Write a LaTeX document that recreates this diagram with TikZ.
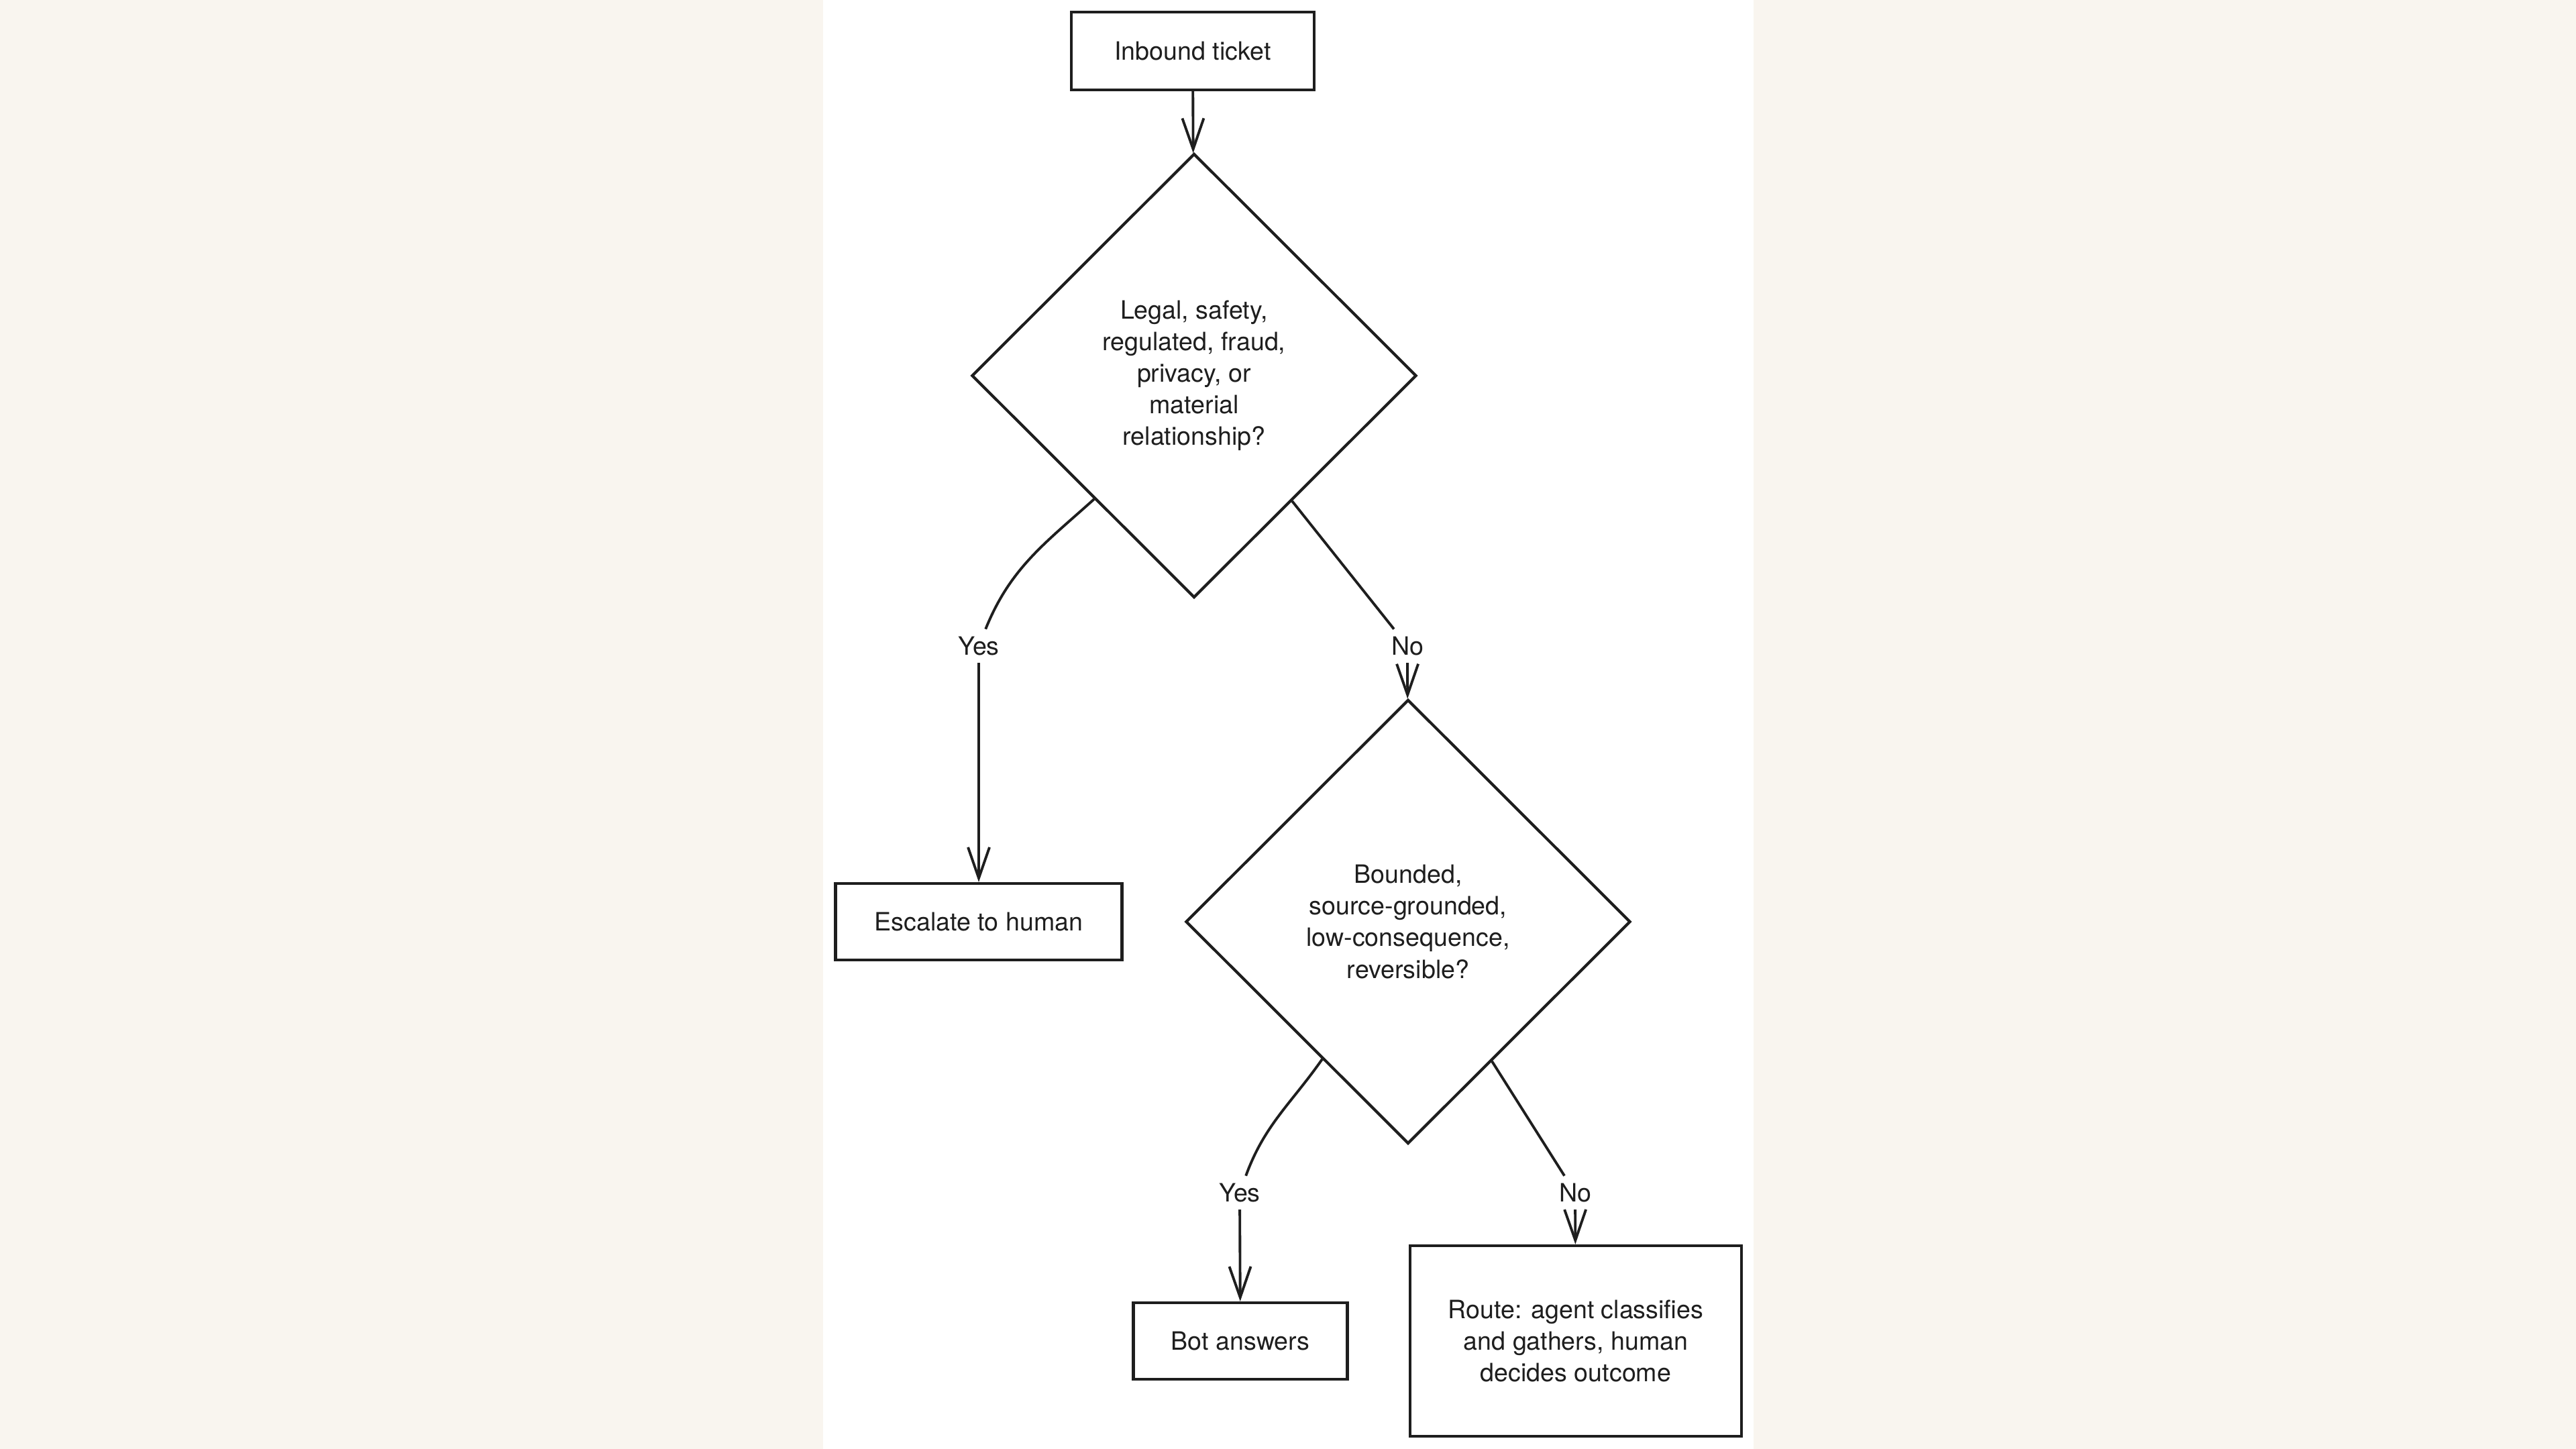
\documentclass[tikz,border=0pt]{standalone}
\usepackage{fontspec}
\setmainfont{TeX Gyre Heros}
\usetikzlibrary{shapes.geometric,arrows.meta}
\definecolor{paper}{HTML}{F9F5EF}
\definecolor{ink}{HTML}{1E1E1E}
\tikzset{
    every node/.style={font=\fontsize{10.7}{13.4}\selectfont, text=ink},
    box/.style={draw=ink, line width=1.2pt, rectangle, inner sep=0pt, align=center},
    ask/.style={draw=ink, line width=1.2pt, diamond, minimum width=6.63cm, minimum height=6.62cm, inner sep=0pt, align=center},
    lbl/.style={fill=white, inner sep=3pt},
    flow/.style={draw=ink, line width=1.1pt},
    tip/.style={-{Straight Barb[length=4.6mm, width=3.2mm]}}
}
\begin{document}
\begin{tikzpicture}
    \fill[paper] (0,0) rectangle (38.4,21.6);
    \fill[white] (12.27,0) rectangle (26.14,21.6);
    \node[box, minimum width=3.62cm, minimum height=1.16cm] (ticket) at (17.78,20.84) {Inbound ticket};
    \node[ask] (q1) at (17.80,16.00) {Legal, safety,\\regulated, fraud,\\privacy, or\\material\\relationship?};
    \node[box, minimum width=4.27cm, minimum height=1.14cm] (escalate) at (14.59,7.86) {Escalate to human};
    \node[ask] (q2) at (20.99,7.86) {Bounded,\\source-grounded,\\low-consequence,\\reversible?};
    \node[box, minimum width=3.19cm, minimum height=1.14cm] (bot) at (18.49,1.61) {Bot answers};
    \node[box, minimum width=4.94cm, minimum height=2.84cm] (route) at (23.49,1.61) {Route: agent classifies\\and gathers, human\\decides outcome};
    \node[lbl] (yes1) at (14.59,11.97) {Yes};
    \node[lbl] (no1) at (20.98,11.97) {No};
    \node[lbl] (yes2) at (18.48,3.82) {Yes};
    \node[lbl] (no2) at (23.48,3.82) {No};
    \draw [flow, tip] (ticket) -- (q1);
    \draw [flow] (q1.-129) to[out=-138, in=68] (yes1);
    \draw [flow, tip] (yes1) -- (escalate);
    \draw [flow] (q1.-52) -- (no1);
    \draw [flow, tip] (no1) -- (q2);
    \draw [flow] (q2.-122) to[out=-125, in=70] (yes2);
    \draw [flow, tip] (yes2) -- (bot);
    \draw [flow] (q2.-59) -- (no2);
    \draw [flow, tip] (no2) -- (route);
\end{tikzpicture}
\end{document}
